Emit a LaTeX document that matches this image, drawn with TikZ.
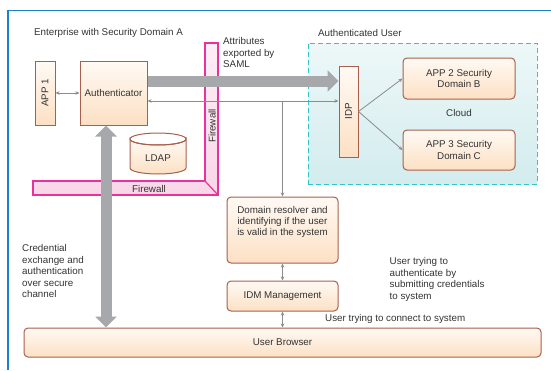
\documentclass[tikz,border=0pt]{standalone}
\usepackage{fontspec}
\setmainfont{Liberation Sans}
\usetikzlibrary{arrows.meta,calc}
\definecolor{framblue}{HTML}{1B7FCC}
\definecolor{boxbrown}{HTML}{A8604C}
\definecolor{peach}{HTML}{FCE0C4}
\definecolor{peachtop}{HTML}{FFFAF4}
\definecolor{tealc}{HTML}{33C4C6}
\definecolor{tealfill}{HTML}{D3ECEE}
\definecolor{magc}{HTML}{E8349A}
\definecolor{pinkfill}{HTML}{F8CFE4}
\definecolor{fatgray}{HTML}{A6A8AB}
\definecolor{thingray}{HTML}{8C8C8C}
\definecolor{txt}{HTML}{333333}
\tikzset{
  box/.style={draw=boxbrown, line width=1pt, top color=peachtop, bottom color=peach, inner sep=0pt, align=center},
  rbox/.style={box, rounded corners=4pt},
  plain/.style={inner sep=0pt, align=left, text=txt},
  fat/.style={draw=fatgray, line width=11pt},
  fathead/.tip={Triangle[length=11pt,width=21pt]},
  thin/.style={draw=thingray, line width=0.8pt},
  tip/.tip={Stealth[length=4pt,width=3.5pt]},
}
\begin{document}
\begin{tikzpicture}[x=1pt,y=-1pt, font=\fontsize{9.8}{11.4}\selectfont, text=txt]
\useasboundingbox (0,0) rectangle (551,370);
% outer frame
\draw[framblue, line width=1.8pt] (8,370) -- (8,10.5) -- (551,10.5);
% cloud region
\node[draw=tealc, line width=1pt, dash pattern=on 5pt off 3pt, top color=white!60!tealfill, bottom color=tealfill, minimum width=229pt, minimum height=141pt, inner sep=0pt] (cloud) at (422.5,113.5) {};
% firewall
\path[draw=magc, line width=1.2pt, top color=pinkfill!35, bottom color=pinkfill!85] (33,181) -- (205,181) -- (205,43) -- (218,43) -- (218,195) -- (33,195) -- cycle;
\draw[magc, line width=1.2pt] (205,181) -- (218,195);
\node[plain, rotate=90] (fwv) at (212,126) {Firewall};
\node[plain] (fwh) at (149,188.5) {Firewall};
% texts
\node[plain, anchor=west] (enttitle) at (34,33) {Enterprise with Security Domain A};
\node[plain, anchor=west] (authtitle) at (318,33) {Authenticated User};
\node[plain, anchor=north west] (saml) at (223,37.5) {Attributes\\exported by\\SAML};
\node[plain] (cloudlbl) at (459,113) {Cloud};
\node[plain, anchor=north west] (cred) at (22,244.5) {Credential\\exchange and\\authentication\\over secure\\channel};
\node[plain, anchor=north west] (trying) at (389.5,257.5) {User trying to\\authenticate by\\submitting credentials\\to system};
\node[plain, anchor=west] (connect) at (325,319) {User trying to connect to system};
% boxes
\node[box, minimum width=20pt, minimum height=64pt] (app1) at (45,93) {};
\node[plain, rotate=90] (app1t) at (45,93) {APP 1};
\node[box, minimum width=67pt, minimum height=64pt] (auth) at (113.5,93) {Authenticator};
\node[box, minimum width=19pt, minimum height=91pt] (idp) at (348.5,111.5) {};
\node[plain, rotate=90] (idpt) at (348.5,111.5) {IDP};
\node[rbox, minimum width=112pt, minimum height=41pt] (app2) at (459,78.5) {APP 2 Security\\Domain B};
\node[rbox, minimum width=112pt, minimum height=40pt] (app3) at (459,150) {APP 3 Security\\Domain C};
\node[rbox, minimum width=111pt, minimum height=66pt] (dom) at (282.5,230) {};
\node[plain, align=center] (domt) at (282.5,222) {Domain resolver and\\identifying if the user\\is valid in the system};
\node[rbox, minimum width=111pt, minimum height=30pt] (idm) at (282.5,296) {IDM Management};
\node[rbox, minimum width=517pt, minimum height=29pt] (ub) at (282.5,342.5) {User Browser};
% LDAP cylinder
\path[draw=boxbrown, line width=1pt, top color=peachtop, bottom color=peach] (130,139) -- (130,168) arc (180:0:28 and 6) -- (186,139) arc (0:180:28 and 6) -- cycle;
\draw[boxbrown, line width=1pt] (158,139) ellipse (28 and 6);
\node[plain] (ldap) at (158,158) {LDAP};
% fat arrows
\draw[fat, -{fathead}] ($(auth.east)+(0,-12)$) -- ($(auth.east -| idp.west)+(0,-12)$);
\draw[fat, {fathead}-{fathead}] ($(auth.south)+(-7.5,0)$) -- ($(auth.south |- ub.north)+(-7.5,0)$);
% thin arrows
\draw[thin, {tip}-{tip}] (app1.east) -- (app1.east -| auth.west);
\draw[thin, {tip}-{tip}] ($(auth.east)+(0,8)$) -- ($(auth.east -| idp.west)+(0,8)$);
\coordinate (junc) at ($(auth.east -| dom.north)+(0,8)$);
\draw[thin, -{tip}] (junc) -- (dom.north);
\draw[thin, -{tip}] (idp.east) -- (app2.west);
\draw[thin, -{tip}] (idp.east) -- (app3.west);
\draw[thin, {tip}-{tip}] (dom.south) -- (idm.north);
\draw[thin, {tip}-{tip}] (idm.south) -- (ub.north);
\end{tikzpicture}
\end{document}
